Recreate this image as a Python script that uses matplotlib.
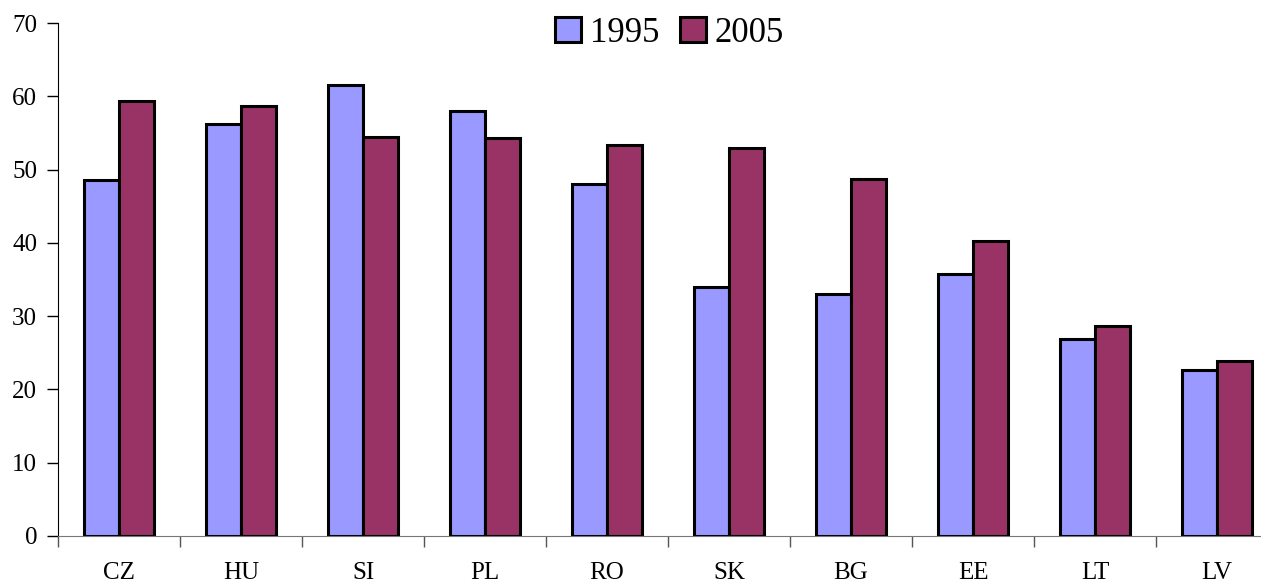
import numpy as np
import matplotlib
matplotlib.use('Agg')
import matplotlib.pyplot as plt
from matplotlib.ticker import FixedLocator

plt.rcParams['font.family'] = ['Liberation Serif', 'DejaVu Serif']

# data
countries = ['CZ', 'HU', 'SI', 'PL', 'RO', 'SK', 'BG', 'EE', 'LT', 'LV']
v1995 = [48.6, 56.2, 61.6, 58.0, 48.0, 34.0, 33.0, 35.7, 26.9, 22.6]
v2005 = [59.3, 58.7, 54.4, 54.3, 53.4, 53.0, 48.7, 40.3, 28.6, 23.9]
yticks = [0, 10, 20, 30, 40, 50, 60, 70]

c1995 = '#9999FF'
c2005 = '#993366'

fig = plt.figure(figsize=(12.61, 5.84), dpi=100)
# axes runs off the right edge like in the original
ax = fig.add_axes([58 / 1261, 48 / 584, 1220 / 1261, 513 / 584])

x = np.arange(len(countries))
w = 0.287
ax.bar(x - w / 2, v1995, w, color=c1995, edgecolor='black', linewidth=2.2, label='1995')
ax.bar(x + w / 2, v2005, w, color=c2005, edgecolor='black', linewidth=2.2, label='2005')

ax.set_xlim(-0.5, len(countries) - 0.5)
ax.set_ylim(0, 70)
ax.set_yticks(yticks)
ax.tick_params(axis='y', labelsize=18, length=8, width=1, pad=7)

ax.set_xticks(x)
ax.set_xticklabels(countries)
ax.tick_params(axis='x', which='major', length=0, labelsize=18, pad=19)
ax.xaxis.set_minor_locator(FixedLocator(x - 0.5))
ax.tick_params(axis='x', which='minor', length=8, width=1, color='#555555')

for s in ['top', 'right']:
    ax.spines[s].set_visible(False)
ax.spines['bottom'].set_color('#777777')
ax.spines['left'].set_color('black')

fig.legend(loc='upper center', bbox_to_anchor=(0.531, 1.025), ncol=2, frameon=False,
           fontsize=25, handlelength=0.75, handleheight=0.75, handletextpad=0.25,
           columnspacing=0.6)

fig.savefig('out.png', dpi=100)
